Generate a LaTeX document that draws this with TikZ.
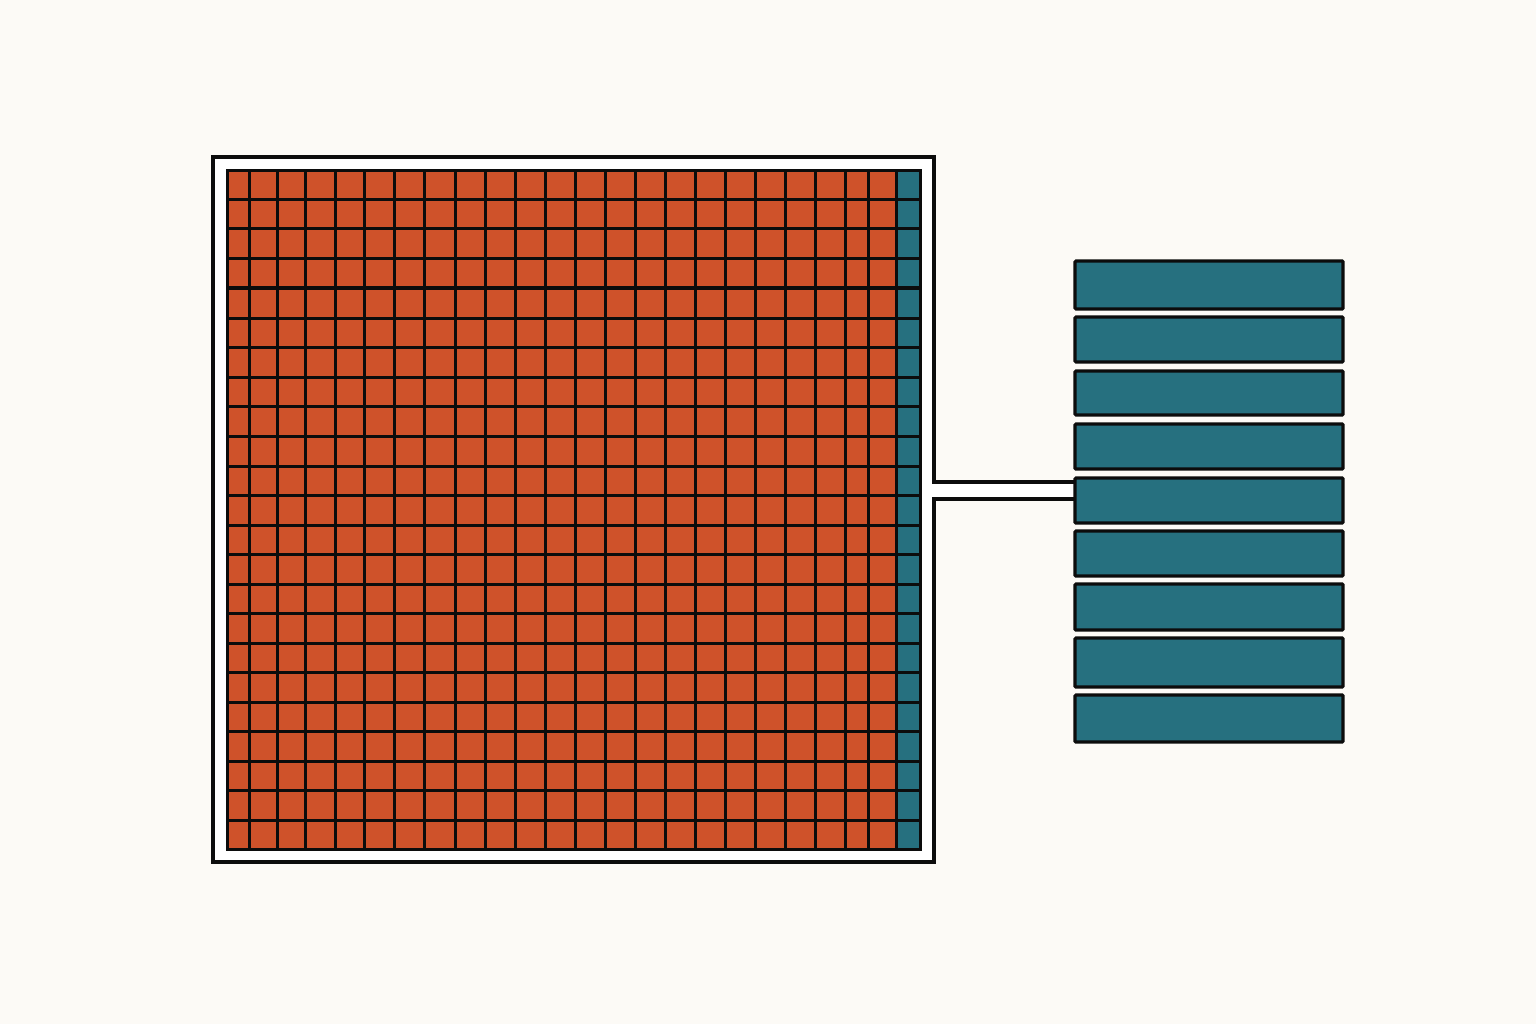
\documentclass[tikz,border=0pt]{standalone}
\definecolor{bg}{HTML}{FCFAF6}
\definecolor{brick}{HTML}{CF522A}
\definecolor{tealc}{HTML}{26707F}
\definecolor{ink}{HTML}{0C0C0C}
\begin{document}
\begin{tikzpicture}[x=1pt,y=-1pt,
  gridline/.style={draw=ink,line width=3pt},
  frameline/.style={draw=ink,line width=3.2pt,line join=miter},
  bar/.style={draw=ink,line width=3.2pt,fill=tealc,rectangle,inner sep=0pt,outer sep=0pt,minimum width=268pt,rounded corners=1pt}]
\useasboundingbox (0,0) rectangle (1536,1024);
\fill[bg] (0,0) rectangle (1536,1024);
% frame with channel
\coordinate (ftl) at (213,157);
\coordinate (fbr) at (934,862);
\fill[white] (ftl) rectangle (fbr);
\fill[white] (934,482) rectangle (1075,499);
% grid
\fill[brick] (227,171) rectangle (896,849);
\fill[tealc] (896,171) rectangle (920,849);
\foreach \x in {249,277,305,335,364,394,424,455,485,515,545,575,605,635,665,695,725,755,785,815,845,868,896}
  \draw[gridline] (\x,171) -- (\x,849);
\foreach \y in {200,229,259,288,318,347,377,406,436,466,495,525,554,584,613,643,672,702,731,761,790,820}
  \draw[gridline] (227,\y) -- (920,\y);
\draw[gridline] (227,171) rectangle (920,849);
% bars
\foreach \t/\b [count=\i] in {261/309,317/362,371/415,424/469,478/523,531/576,584/630,638/687,695/742}
  \node[bar,minimum height={\b-\t},anchor=north west] (b\i) at (1075,\t) {};
% frame outline
\draw[frameline] (b5.west |- 0,482) -- (934,482) -- (ftl -| fbr) -- (ftl) -- (ftl |- fbr) -- (fbr) -- (934,499) -- (b5.west |- 0,499);
\end{tikzpicture}
\end{document}
